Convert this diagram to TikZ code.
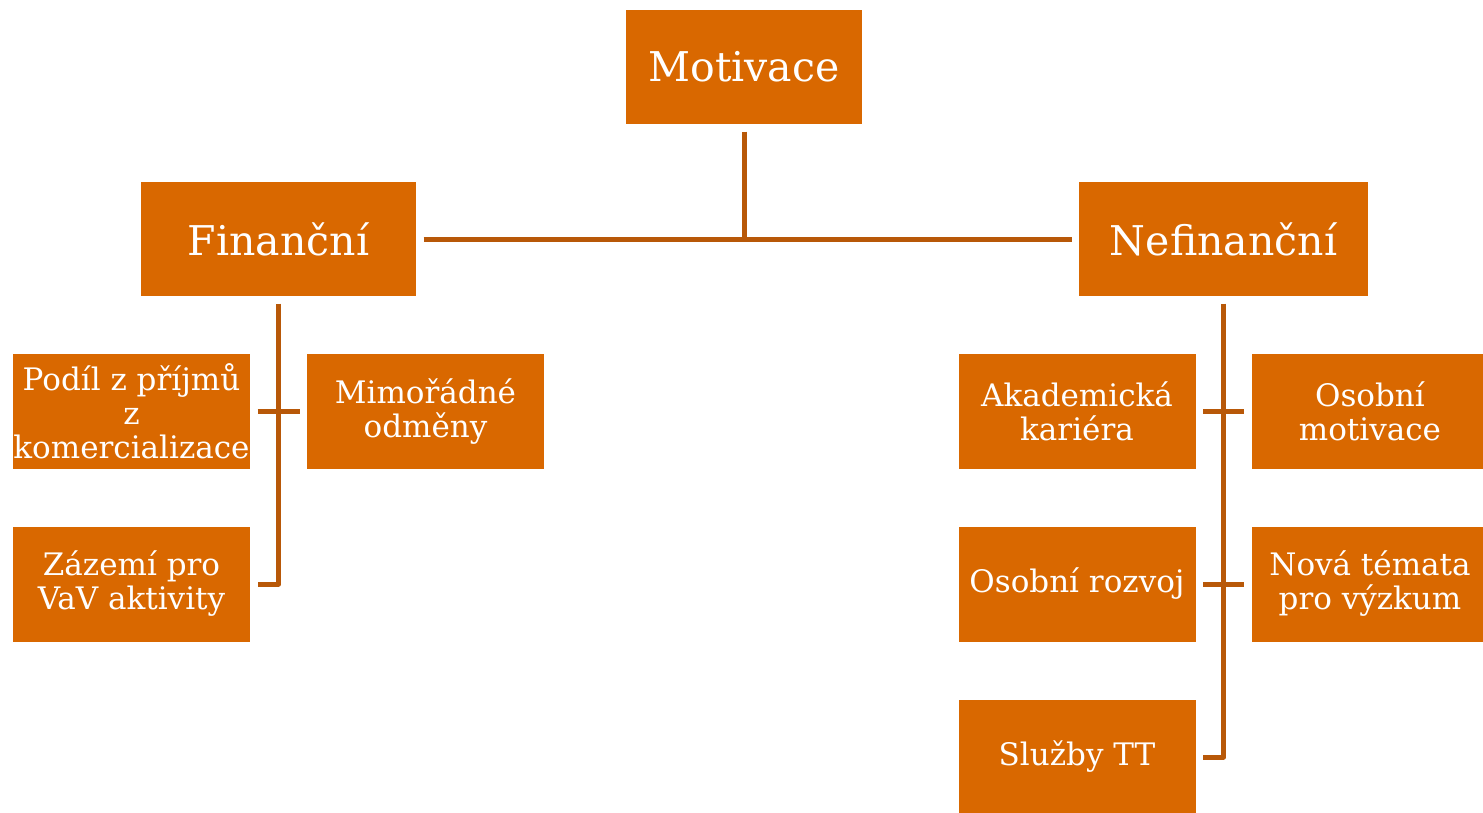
\documentclass[tikz,border=0pt]{standalone}
\usepackage{fontspec}
\setmainfont{DejaVu Serif}
\definecolor{boxfill}{RGB}{217,104,0}
\definecolor{linecol}{RGB}{184,88,8}
\tikzset{
  topbox/.style={fill=boxfill, text=white, font=\fontsize{41}{46}\selectfont,
    minimum height=114pt, inner sep=0pt, outer sep=7.5pt, align=center},
  leafbox/.style={fill=boxfill, text=white, font=\fontsize{31}{34}\selectfont,
    minimum width=237pt, minimum height=115pt, inner sep=0pt, outer sep=7.5pt, align=center},
  conn/.style={draw=linecol, line width=5pt, line join=round}
}
\begin{document}
\begin{tikzpicture}[x=1pt,y=-1pt]
\useasboundingbox (0,0) rectangle (1483,812);
\clip (0,0) rectangle (1483,812);
\node[topbox, minimum width=236pt] (mot) at (744,67) {Motivace};
\node[topbox, minimum width=275pt] (fin) at (278.5,239) {Finanční};
\node[topbox, minimum width=289pt] (nef) at (1223.5,239) {Nefinanční};
\node[leafbox] (podil) at (131.5,411.5) {Podíl z příjmů\\z\\komercializace};
\node[leafbox] (mimo) at (425.5,411.5) {Mimořádné\\odměny};
\node[leafbox] (zaz) at (131.5,584) {Zázemí pro\\VaV aktivity};
\node[leafbox] (akad) at (1077,411.5) {Akademická\\kariéra};
\node[leafbox] (osm) at (1370,411.5) {Osobní\\motivace};
\node[leafbox] (osr) at (1077,584) {Osobní rozvoj};
\node[leafbox] (nova) at (1370,584) {Nová témata\\pro výzkum};
\node[leafbox] (sluz) at (1077,757) {Služby TT};
\draw[conn] (fin.east) -- (nef.west);
\draw[conn] (mot.south) -- (mot.south |- fin.east);
\draw[conn] (fin.south) -- (fin.south |- zaz.east) -- (zaz.east);
\draw[conn] (podil.east) -- (mimo.west);
\draw[conn] (nef.south) -- (nef.south |- sluz.east) -- (sluz.east);
\draw[conn] (akad.east) -- (osm.west);
\draw[conn] (osr.east) -- (nova.west);
\end{tikzpicture}
\end{document}
